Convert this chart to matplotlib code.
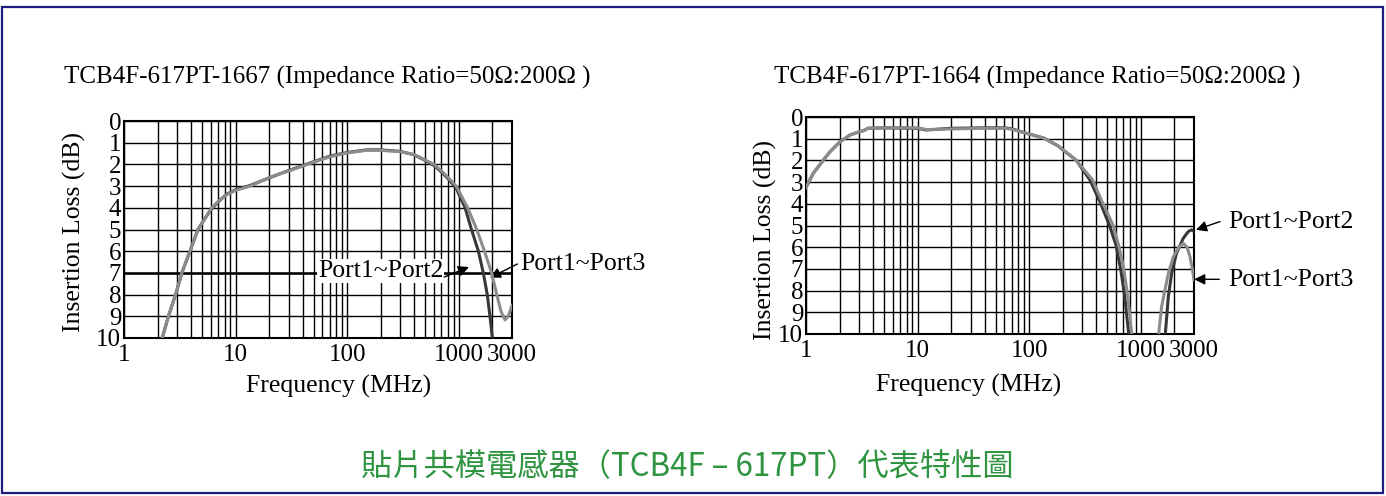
import matplotlib
matplotlib.use("Agg")
import matplotlib.pyplot as plt
from matplotlib.patches import Rectangle
from matplotlib.ticker import FixedLocator, NullFormatter

plt.rcParams['font.family'] = ['Liberation Serif', 'DejaVu Serif']

# ---- data (frequency in MHz, insertion loss in dB) ----
left_title = "TCB4F-617PT-1667 (Impedance Ratio=50\u03a9:200\u03a9 )"
right_title = "TCB4F-617PT-1664 (Impedance Ratio=50\u03a9:200\u03a9 )"

l_p13_f = [2.2, 2.5, 2.9, 3.3, 3.9, 4.6, 5.3, 6.1, 7.0, 8.3, 10, 13.5, 20, 30, 50, 70,
           100, 150, 200, 300, 400, 500, 600, 700, 800, 950, 1200, 1450, 1700, 1970,
           2190, 2400, 2600, 2800, 3000]
l_p13_db = [10.0, 9.0, 8.0, 7.0, 6.0, 5.0, 4.5, 4.0, 3.7, 3.4, 3.2, 3.0, 2.6, 2.3, 1.9, 1.65,
            1.47, 1.35, 1.35, 1.42, 1.55, 1.8, 2.0, 2.3, 2.6, 3.0, 4.0, 5.0, 6.0, 7.0,
            8.0, 8.8, 9.17, 8.95, 8.5]

l_p12_f = [2.2, 2.5, 2.9, 3.3, 3.9, 4.6, 5.3, 6.1, 7.0, 8.3, 10, 13.5, 20, 30, 50, 70,
           100, 150, 200, 300, 400, 500, 600, 700, 800, 950, 1140, 1300, 1500, 1660,
           1800, 1905, 2000]
l_p12_db = [10.0, 9.0, 8.0, 7.0, 6.0, 5.0, 4.5, 4.05, 3.72, 3.38, 3.17, 2.97, 2.62, 2.28, 1.88, 1.62,
            1.45, 1.33, 1.33, 1.4, 1.56, 1.82, 2.05, 2.35, 2.65, 3.1, 4.0, 5.0, 6.0, 7.0,
            8.0, 9.0, 10.0]

# right chart: main passband and the high-frequency lobe are separate traces
r_p13_f = [1, 1.16, 1.33, 1.64, 2.02, 2.48, 3.0, 3.3, 3.6, 5, 10, 12, 20, 40, 60, 70,
           90, 135, 180, 265, 370, 450, 566, 640, 705, 770, 830]
r_p13_db = [3.24, 2.6, 2.2, 1.6, 1.14, 0.83, 0.68, 0.62, 0.52, 0.5, 0.5, 0.58, 0.55, 0.52, 0.52, 0.56,
            0.72, 0.97, 1.32, 2.0, 2.9, 3.9, 5.0, 6.0, 7.0, 8.4, 10.0]
r_p13_hi_f = [1446, 1538, 1766, 1958, 2200, 2405, 2600, 2760, 2900, 3000]
r_p13_hi_db = [10.0, 8.74, 7.2, 6.44, 6.0, 5.82, 6.0, 6.44, 7.0, 7.5]

r_p12_f = [1, 1.16, 1.33, 1.64, 2.02, 2.48, 3.0, 3.3, 3.6, 5, 10, 12, 20, 40, 60, 70,
           90, 135, 180, 265, 350, 430, 525, 600, 660, 720, 780]
r_p12_db = [3.24, 2.6, 2.2, 1.6, 1.14, 0.83, 0.68, 0.62, 0.52, 0.5, 0.52, 0.6, 0.52, 0.5, 0.5, 0.54,
            0.72, 0.97, 1.32, 2.0, 2.9, 3.9, 5.0, 5.9, 7.0, 8.3, 10.0]
r_p12_hi_f = [1660, 1766, 1892, 2090, 2405, 2665, 2850, 3000]
r_p12_hi_db = [10.0, 8.28, 7.2, 6.28, 5.59, 5.28, 5.2, 5.28]

x_ticks = [1, 10, 100, 1000, 3000]
x_ticklabels = ["1", "10", "100", "1000", "3000"]
y_ticks = list(range(0, 11))
caption = "貼片共模電感器（TCB4F – 617PT）代表特性圖"

W, H = 1386, 496
fig = plt.figure(figsize=(W / 100, H / 100), dpi=100)


def px(x, y):
    return x / W, 1 - y / H


def setup(ax):
    ax.set_xscale('log')
    ax.set_xlim(1, 3000)
    ax.set_ylim(10, 0)
    minors = [m * 10 ** d for d in range(4) for m in range(2, 10) if m * 10 ** d < 3000]
    ax.xaxis.set_major_locator(FixedLocator(x_ticks))
    ax.xaxis.set_minor_locator(FixedLocator(minors))
    ax.xaxis.set_minor_formatter(NullFormatter())
    ax.set_xticklabels(x_ticklabels)
    ax.set_yticks(y_ticks)
    ax.tick_params(which='both', length=0, labelsize=18)
    ax.tick_params(axis='y', pad=2)
    ax.tick_params(axis='x', pad=4)
    ax.grid(True, which='both', color='black', linewidth=1.0)
    for s in ax.spines.values():
        s.set_linewidth(1.5)
    ax.set_axisbelow(True)


arrow = dict(arrowstyle='-|>', color='black', lw=1.0, mutation_scale=16,
             shrinkA=0, shrinkB=0)
FS = 18.5

# ---- left chart ----
ax1 = fig.add_axes([124 / W, 1 - 338 / H, 388 / W, 217 / H])
setup(ax1)
ax1.axhline(7, color='black', lw=1.8, zorder=1)
ax1.plot(l_p12_f, l_p12_db, color='#383838', lw=2.2, zorder=3)
ax1.plot(l_p13_f, l_p13_db, color='#8c8c8c', lw=2.2, zorder=4)
ax1.text(55, 6.92, "Port1~Port2", fontsize=FS, ha='left', va='center', zorder=5,
         bbox=dict(facecolor='white', edgecolor='none', pad=0.5))
ax1.annotate('', xy=(1234, 6.73), xytext=(740, 7.19), arrowprops=arrow, zorder=6,
             annotation_clip=False)
ax1.text(3535, 6.59, "Port1~Port3", fontsize=FS, ha='left', va='center', clip_on=False)
ax1.annotate('', xy=(1900, 7.22), xytext=(3355, 6.59), arrowprops=arrow,
             annotation_clip=False)

# ---- right chart ----
ax2 = fig.add_axes([806 / W, 1 - 334 / H, 388 / W, 217 / H])
setup(ax2)
ax2.plot(r_p12_f, r_p12_db, color='#383838', lw=2.2, zorder=3)
ax2.plot(r_p12_hi_f, r_p12_hi_db, color='#383838', lw=2.2, zorder=3)
ax2.plot(r_p13_f, r_p13_db, color='#8c8c8c', lw=2.2, zorder=4)
ax2.plot(r_p13_hi_f, r_p13_hi_db, color='#8c8c8c', lw=2.2, zorder=4)
ax2.text(6040, 4.84, "Port1~Port2", fontsize=FS, ha='left', va='center', clip_on=False)
ax2.annotate('', xy=(3125, 5.2), xytext=(5130, 4.82), arrowprops=arrow,
             annotation_clip=False)
ax2.text(6040, 7.51, "Port1~Port3", fontsize=FS, ha='left', va='center', clip_on=False)
ax2.annotate('', xy=(3014, 7.48), xytext=(5050, 7.48), arrowprops=arrow,
             annotation_clip=False)

# ---- titles and labels ----
fig.text(*px(64, 77), left_title, fontsize=18, ha='left', va='center')
fig.text(*px(774, 77), right_title, fontsize=18, ha='left', va='center')
fig.text(*px(74, 232), "Insertion Loss (dB)", fontsize=FS, rotation=90, ha='center', va='center')
fig.text(*px(765, 240), "Insertion Loss (dB)", fontsize=FS, rotation=90, ha='center', va='center')
fig.text(*px(339, 386), "Frequency (MHz)", fontsize=FS, ha='center', va='center')
fig.text(*px(969, 385), "Frequency (MHz)", fontsize=FS, ha='center', va='center')
fig.text(*px(687, 467), caption, fontsize=22.5, color='#2f9440', ha='center', va='center',
         family=['Noto Sans CJK TC', 'DejaVu Sans'])

# navy frame
fig.patches.append(Rectangle(px(2, 493), 1381 / W, 486 / H, transform=fig.transFigure,
                             fill=False, edgecolor='#1d1d80', linewidth=1.6))

fig.savefig('out.png', dpi=100)
